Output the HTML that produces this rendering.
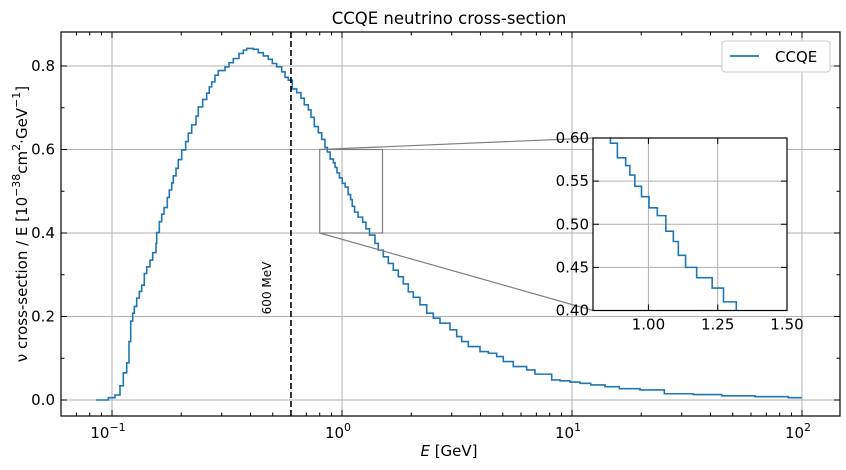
<!DOCTYPE html>
<html><head><meta charset="utf-8"><style>
html,body{margin:0;padding:0;background:#fff;overflow:hidden;width:846px;height:470px}
svg{display:block;font-family:"DejaVu Sans","Liberation Sans",sans-serif}
</style></head><body>
<svg id="chart" width="846" height="470" viewBox="0 0 846 470"></svg>
<script>
// bin edges as log10(E / GeV)
const logEdges=[-1.0696,-1.0161,-0.9870,-0.9652,-0.9509,-0.9361,-0.9261,-0.9187,-0.9100,-0.9030,-0.8926,-0.8813,-0.8709,-0.8596,-0.8491,-0.8348,-0.8230,-0.8087,-0.8057,-0.7943,-0.7839,-0.7739,-0.7596,-0.7509,-0.7404,-0.7335,-0.7217,-0.7117,-0.6970,-0.6796,-0.6683,-0.6535,-0.6348,-0.6248,-0.6057,-0.5883,-0.5770,-0.5665,-0.5522,-0.5378,-0.5087,-0.4913,-0.4726,-0.4478,-0.4291,-0.4143,-0.3857,-0.3639,-0.3422,-0.3204,-0.3030,-0.2839,-0.2622,-0.2478,-0.2335,-0.2161,-0.1970,-0.1783,-0.1639,-0.1465,-0.1348,-0.1204,-0.1030,-0.0883,-0.0739,-0.0640,-0.0516,-0.0372,-0.0301,-0.0218,-0.0110,0.0009,0.0137,0.0265,0.0374,0.0445,0.0546,0.0697,0.0899,0.1041,0.1196,0.1435,0.1578,0.1796,0.2013,0.2230,0.2448,0.2665,0.2883,0.3100,0.3391,0.3683,0.3970,0.4261,0.4696,0.4987,0.5204,0.5491,0.6,0.6361,0.6726,0.7013,0.7448,0.8030,0.8391,0.9117,0.9478,0.9913,1.0348,1.0813,1.1435,1.2057,1.2957,1.4013,1.5274,1.6509,1.7957,1.9404,1.9987];
const xsecValues=[0,0.0056,0.012,0.034,0.065,0.089,0.14,0.189,0.208,0.224,0.244,0.26,0.275,0.303,0.319,0.335,0.353,0.375,0.401,0.427,0.445,0.461,0.485,0.503,0.52,0.537,0.555,0.576,0.599,0.619,0.639,0.659,0.68,0.702,0.72,0.735,0.75,0.762,0.778,0.789,0.798,0.808,0.818,0.830,0.838,0.842,0.840,0.832,0.824,0.816,0.806,0.798,0.786,0.773,0.766,0.745,0.736,0.723,0.707,0.695,0.677,0.655,0.640,0.624,0.605,0.594,0.577,0.568,0.557,0.544,0.532,0.519,0.510,0.492,0.480,0.464,0.450,0.438,0.426,0.410,0.395,0.375,0.359,0.343,0.327,0.311,0.295,0.278,0.259,0.246,0.228,0.208,0.196,0.184,0.168,0.152,0.140,0.128,0.116,0.112,0.104,0.092,0.080,0.072,0.062,0.048,0.046,0.043,0.040,0.036,0.032,0.027,0.024,0.015,0.013,0.010,0.008,0.0056];
const xTickExps=[-1,0,1,2];
const yTicks=[0.0,0.2,0.4,0.6,0.8];
const insetXTicks=[1.00,1.25,1.50];
const insetYTicks=[0.40,0.45,0.50,0.55,0.60];
const cutEnergy=0.6;

const NS="http://www.w3.org/2000/svg";
const svg=document.getElementById('chart');
function el(t,a,p){const e=document.createElementNS(NS,t);for(const k in a)e.setAttribute(k,a[k]);(p||svg).appendChild(e);return e;}
function ts(parent,txt,a){const t=el('tspan',a||{},parent);t.textContent=txt;return t;}
const L=61,R=840,T=32,B=416;
const X=e=>342+230*Math.log10(e);
const Y=v=>400-v*417.5;
const IL=593,IR=787,IT=138,IB=310.5;
const IX=e=>IL+(e-0.8)/0.7*(IR-IL);
const IY=v=>IB-(v-0.4)/0.2*(IB-IT);

const grid=el('g',{});

xTickExps.forEach(k=>el('line',{x1:X(10**k),x2:X(10**k),y1:T,y2:B,stroke:'#b0b0b0','stroke-width':1},grid));
yTicks.forEach(v=>el('line',{x1:L,x2:R,y1:Y(v),y2:Y(v),stroke:'#b0b0b0','stroke-width':1},grid));

function stepPath(xf,yf){let d='';const n=Math.min(xsecValues.length,logEdges.length-1);
for(let i=0;i<n;i++){const x0=xf(10**logEdges[i]),x1=xf(10**logEdges[i+1]),y=yf(xsecValues[i]);d+=(i===0?'M':'L')+x0.toFixed(2)+' '+y.toFixed(2)+'L'+x1.toFixed(2)+' '+y.toFixed(2);}return d;}
const line=el('path',{d:stepPath(X,Y),fill:'none',stroke:'#1f77b4','stroke-width':1.6});


const cut=el('line',{x1:X(cutEnergy),x2:X(cutEnergy),y1:T,y2:B,stroke:'#000','stroke-width':1.6,'stroke-dasharray':'6,3'});

const cutT=el('text',{x:0,y:0,'font-size':12,'text-anchor':'middle',transform:`translate(${X(cutEnergy)-20},${288}) rotate(-90)`});
cutT.textContent='600 MeV';


const zr=el('rect',{x:X(0.8),y:Y(0.6),width:X(1.5)-X(0.8),height:Y(0.4)-Y(0.6),fill:'none',stroke:'#808080','stroke-width':1.2});

el('line',{x1:X(0.8),y1:Y(0.6),x2:IL,y2:IT,stroke:'#808080','stroke-width':1.2});
el('line',{x1:X(0.8),y1:Y(0.4),x2:IL,y2:IB,stroke:'#808080','stroke-width':1.2});

const frame=el('rect',{x:L,y:T,width:R-L,height:B-T,fill:'none',stroke:'#000','stroke-width':1.2});

for(let k=-2;k<=2;k++){for(let m=1;m<10;m++){const x=X(m*10**k);if(x<L||x>R)continue;const len=m===1?6:3.5;
el('line',{x1:x,x2:x,y1:B,y2:B-len,stroke:'#000'});el('line',{x1:x,x2:x,y1:T,y2:T+len,stroke:'#000'});}}
xTickExps.forEach(k=>{const t=el('text',{x:X(10**k)-4,y:B+22,'font-size':15,'text-anchor':'middle'});
ts(t,'10');ts(t,String(k).replace('-','−'),{dy:-7,'font-size':11});
});
yTicks.forEach(v=>{const y=Y(v);el('line',{x1:L,x2:L+6,y1:y,y2:y,stroke:'#000'});el('line',{x1:R,x2:R-6,y1:y,y2:y,stroke:'#000'});
const t=el('text',{x:L-6,y:y+5,'font-size':15,'text-anchor':'end'});t.textContent=v.toFixed(1);
});
for(let v=0.1;v<0.85;v+=0.2){const y=Y(v);el('line',{x1:L,x2:L+3.5,y1:y,y2:y,stroke:'#000'});el('line',{x1:R,x2:R-3.5,y1:y,y2:y,stroke:'#000'});}

const title=el('text',{x:449,y:24,'font-size':16.5,'text-anchor':'middle'});title.textContent='CCQE neutrino cross-section';

const xl=el('text',{x:449,y:456,'font-size':15,'text-anchor':'middle'});
ts(xl,'E',{'font-style':'italic'});ts(xl,' [GeV]');

const yl=el('text',{x:0,y:0,'font-size':15,'text-anchor':'middle',transform:'translate(27,224) rotate(-90)'});
ts(yl,'ν cross-section / E [10');ts(yl,'−38',{dy:-7,'font-size':11});ts(yl,'cm',{dy:7});ts(yl,'2',{dy:-7,'font-size':11});
ts(yl,'·GeV',{dy:7});ts(yl,'−1',{dy:-7,'font-size':11});ts(yl,']',{dy:7});


const lg=el('g',{});
el('rect',{x:722,y:41,width:108,height:31,rx:3,fill:'#fff',stroke:'#ccc'},lg);
el('line',{x1:730,x2:759,y1:56,y2:56,stroke:'#1f77b4','stroke-width':1.8},lg);
const lt=el('text',{x:775,y:62,'font-size':15},lg);lt.textContent='CCQE';


const ins=el('g',{});
el('rect',{x:IL,y:IT,width:IR-IL,height:IB-IT,fill:'#fff'},ins);
const cp=el('clipPath',{id:'ic'},ins);el('rect',{x:IL,y:IT,width:IR-IL,height:IB-IT},cp);
insetXTicks.forEach(v=>el('line',{x1:IX(v),x2:IX(v),y1:IT,y2:IB,stroke:'#b0b0b0'},ins));
insetYTicks.forEach(v=>el('line',{x1:IL,x2:IR,y1:IY(v),y2:IY(v),stroke:'#b0b0b0'},ins));
const il=el('path',{d:stepPath(IX,IY),fill:'none',stroke:'#1f77b4','stroke-width':1.6,'clip-path':'url(#ic)'},ins);

el('rect',{x:IL,y:IT,width:IR-IL,height:IB-IT,fill:'none',stroke:'#000','stroke-width':1.2},ins);
insetXTicks.forEach(v=>{const x=IX(v);el('line',{x1:x,x2:x,y1:IB,y2:IB-6,stroke:'#000'},ins);el('line',{x1:x,x2:x,y1:IT,y2:IT+6,stroke:'#000'},ins);
const t=el('text',{x:x,y:IB+19,'font-size':15,'text-anchor':'middle'},ins);t.textContent=v.toFixed(2);
});
insetYTicks.forEach(v=>{const y=IY(v);el('line',{x1:IL,x2:IL+6,y1:y,y2:y,stroke:'#000'},ins);el('line',{x1:IR,x2:IR-6,y1:y,y2:y,stroke:'#000'},ins);
const t=el('text',{x:IL-4,y:y+5,'font-size':15,'text-anchor':'end'},ins);t.textContent=v.toFixed(2);
});
</script>
</body></html>
